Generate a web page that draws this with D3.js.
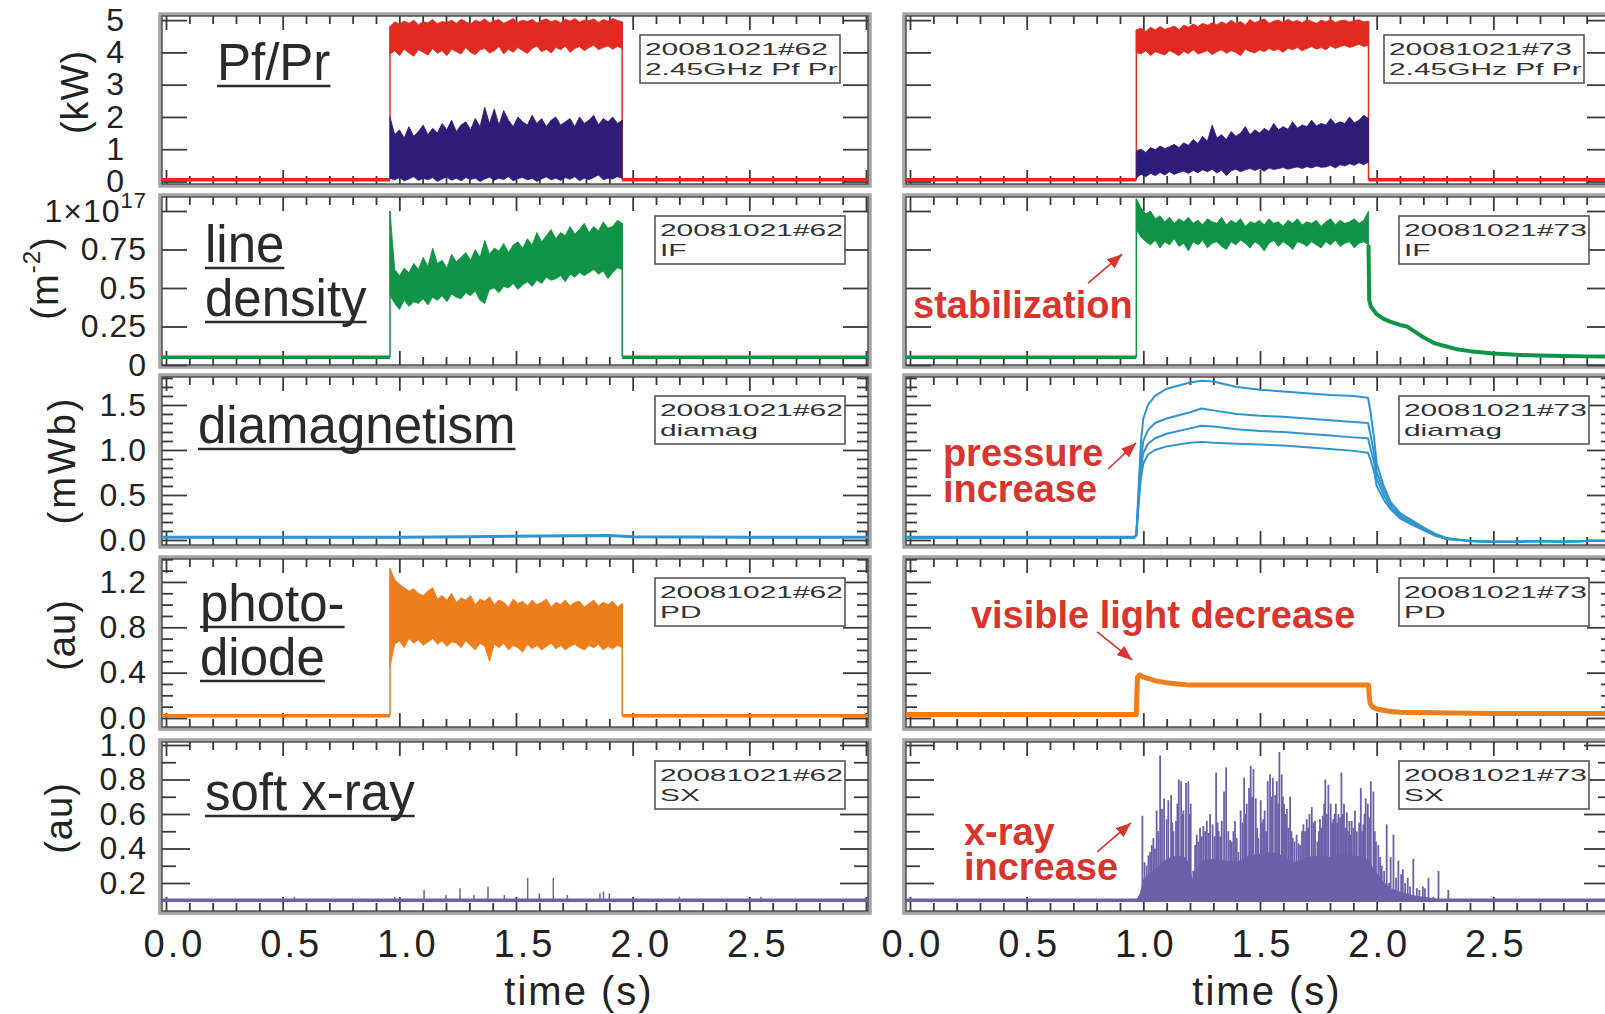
<!DOCTYPE html>
<meta charset="utf-8" />
<style>
  body {
    margin: 0px;
    padding: 0px;
    background: #fff;
  }
  svg {
    display: block;
  }
  text {
    font-family: "Liberation Sans", Arial, sans-serif;
  }
</style>

<svg width="1605" height="1014"></svg>

<script src="https://d3js.org/d3.v7.min.js"></script>
<script>
  // ---- data (left #62, right #73) ----
  const shotIds = ["62", "73"];
  const shotTags = ["2.45GHz Pf Pr", "IF", "diamag", "PD", "SX"];
  const rowTitles = [["Pf/Pr"], ["line", "density"], ["diamagnetism"], ["photo-", "diode"], ["soft x-ray"]];
  const rowUnits = ["(kW)", "(m", "(mWb)", "(au)", "(au)"];

  // plasma on / off times (s)
  const onOff = [
    [0.96, 1.955],
    [0.97, 1.965]
  ];

  // y ticks per row
  const yMajor = [[0, 1, 2, 3, 4, 5], [0, 0.25, 0.5, 0.75, 1], [0, 0.5, 1, 1.5], [0, 0.4, 0.8, 1.2], [0.2, 0.4, 0.6, 0.8, 1.0]];
  const yMinor = [
    [],
    [],
    [0.1, 0.2, 0.3, 0.4, 0.6, 0.7, 0.8, 0.9, 1.1, 1.2, 1.3, 1.4, 1.6, 1.7, 1.8],
    [0.1, 0.2, 0.3, 0.5, 0.6, 0.7, 0.9, 1.0, 1.1, 1.3, 1.4],
    [0.1, 0.3, 0.5, 0.7, 0.9]
  ];
  const yLabels = [["0", "1", "2", "3", "4", "5"], ["0", "0.25", "0.5", "0.75", "1×10"], ["0.0", "0.5", "1.0", "1.5"], ["0.0", "0.4", "0.8", "1.2"], ["0.2", "0.4", "0.6", "0.8", "1.0"]];
  const xMajor = [0, 0.5, 1, 1.5, 2, 2.5, 3];
  const xMinor = [0.1, 0.2, 0.3, 0.4, 0.6, 0.7, 0.8, 0.9, 1.1, 1.2, 1.3, 1.4, 1.6, 1.7, 1.8, 1.9, 2.1, 2.2, 2.3, 2.4, 2.6, 2.7, 2.8, 2.9];
  const xLabelVals = [0, 0.5, 1, 1.5, 2, 2.5];
  const xLabels = ["0.0", "0.5", "1.0", "1.5", "2.0", "2.5"];

  // baselines (plasma off)
  const pfBase = 0.05, neBase = 0.05, diaBase = 0.03, pdBase = 0.02, sxBase = 0.1;

  // shot #62: noisy bands during plasma, upper / lower envelopes (50 samples from on to off)
  const pfUpL = [4.8,4.95,4.88,4.97,4.9,5.0,4.86,4.95,4.92,5.02,4.89,4.96,4.93,5.0,4.9,5.03,4.95,4.88,5.0,4.94,5.04,4.92,4.98,5.02,4.9,4.97,5.05,4.93,5.0,4.96,5.03,4.91,4.99,5.04,4.95,5.0,4.92,5.03,4.97,5.05,4.94,5.0,4.98,5.04,4.93,5.02,4.97,5.05,4.99,4.95];
  const pfLoL = [3.95,4.05,3.9,4.1,3.98,3.88,4.08,4.0,3.92,4.12,3.97,4.05,3.9,4.1,4.02,3.95,4.15,4.0,3.93,4.08,4.12,3.98,4.05,4.18,3.95,4.1,4.0,4.15,4.05,3.97,4.12,4.2,4.02,4.1,3.98,4.15,4.08,4.2,4.0,4.12,4.18,4.05,4.15,4.22,4.08,4.15,4.2,4.1,4.18,4.12];
  const prUpL = [2.0,1.45,1.6,1.35,1.7,1.4,1.55,1.75,1.45,1.65,1.5,1.8,1.6,1.9,1.55,1.75,1.85,1.6,1.95,1.7,2.3,1.8,2.25,1.75,2.2,1.9,1.7,2.0,1.85,1.75,2.05,1.8,1.95,1.7,1.9,2.0,1.75,1.85,1.95,1.7,2.0,1.8,1.9,2.05,1.75,1.95,1.85,2.0,1.8,1.9];
  const prLoL = [0.1,0.05,0.12,0.02,0.08,0.15,0.03,0.1,0.05,0.12,0.0,0.08,0.14,0.04,0.1,0.02,0.12,0.06,0.1,0.0,0.08,0.13,0.04,0.1,0.06,0.15,0.02,0.09,0.12,0.05,0.1,0.0,0.08,0.14,0.05,0.1,0.03,0.12,0.07,0.15,0.02,0.1,0.06,0.12,0.2,0.05,0.1,0.08,0.15,0.1];
  const neUpL = [1.0,0.62,0.58,0.63,0.6,0.66,0.62,0.7,0.64,0.76,0.66,0.68,0.63,0.72,0.67,0.7,0.73,0.68,0.75,0.7,0.81,0.72,0.76,0.74,0.79,0.73,0.78,0.8,0.76,0.82,0.78,0.86,0.8,0.84,0.88,0.82,0.86,0.84,0.9,0.85,0.88,0.92,0.86,0.9,0.87,0.93,0.89,0.9,0.94,0.92];
  const neLoL = [0.45,0.4,0.36,0.42,0.38,0.41,0.4,0.43,0.39,0.44,0.42,0.45,0.41,0.46,0.44,0.43,0.47,0.45,0.48,0.42,0.4,0.49,0.5,0.47,0.51,0.5,0.53,0.49,0.52,0.54,0.51,0.55,0.53,0.57,0.55,0.56,0.58,0.54,0.59,0.57,0.6,0.58,0.6,0.62,0.59,0.61,0.56,0.6,0.63,0.62];
  const pdUpL = [1.32,1.22,1.18,1.15,1.12,1.14,1.1,1.08,1.12,1.15,1.05,1.08,1.04,1.1,1.02,1.06,1.04,1.08,1.0,1.05,1.03,1.07,1.0,1.04,1.02,0.98,1.05,1.01,1.03,0.99,1.04,1.0,1.02,1.05,0.98,1.02,1.0,1.04,0.99,1.02,1.03,0.98,1.01,1.04,0.99,1.02,1.0,1.03,0.98,1.01];
  const pdLoL = [0.45,0.65,0.68,0.62,0.7,0.66,0.69,0.64,0.67,0.7,0.65,0.68,0.63,0.67,0.66,0.62,0.68,0.64,0.6,0.66,0.63,0.5,0.65,0.62,0.66,0.6,0.64,0.62,0.58,0.65,0.61,0.64,0.6,0.63,0.66,0.61,0.64,0.6,0.63,0.65,0.62,0.6,0.64,0.62,0.65,0.6,0.63,0.61,0.64,0.62];
  const diaTL = [-0.03, 0.5, 1.0, 1.3, 1.6, 1.9, 2.0, 2.5, 3.02];
  const diaVL = [0.03, 0.03, 0.03, 0.035, 0.045, 0.05, 0.035, 0.03, 0.03];
  const sxSpikesL = [[0.55,0.12],[0.98,0.12],[1.106,0.16],[1.2,0.13],[1.26,0.17],[1.32,0.13],[1.38,0.18],[1.45,0.13],[1.55,0.23],[1.6,0.14],[1.66,0.23],[1.72,0.13],[1.86,0.14],[1.875,0.15],[1.9,0.14],[2.2,0.12],[2.55,0.12]];

  // shot #73
  const pfUpR = [4.7,4.75,4.65,4.78,4.7,4.8,4.72,4.76,4.82,4.7,4.85,4.78,4.88,4.8,4.9,4.84,4.92,4.86,4.95,4.88,5.0,4.9,4.96,4.85,5.02,4.92,4.98,5.04,4.9,4.97,5.0,4.93,5.03,4.95,4.99,4.92,5.02,4.96,4.9,5.0,4.95,5.02,4.93,4.98,5.0,4.94,4.99,5.01,4.95,4.97];
  const pfLoR = [4.0,3.95,4.05,3.9,4.02,3.97,3.92,4.05,3.98,3.9,4.03,3.96,4.08,3.95,4.0,4.06,3.93,4.02,4.08,3.97,4.05,4.0,3.9,4.1,4.03,3.98,4.08,4.02,4.12,4.05,4.1,4.0,4.13,4.08,4.15,4.05,4.12,4.18,4.1,4.15,4.08,4.2,4.12,4.18,4.22,4.15,4.2,4.25,4.18,4.22];
  const prUpR = [0.95,1.0,0.9,1.05,0.98,1.1,1.02,1.08,1.15,1.05,1.2,1.12,1.3,1.18,1.4,1.25,1.75,1.35,1.45,1.3,1.55,1.4,1.5,1.7,1.45,1.6,1.5,1.65,1.55,1.8,1.6,1.7,1.62,1.85,1.65,1.75,1.7,1.9,1.72,1.8,1.75,1.95,1.78,1.85,1.8,2.0,1.82,1.9,2.05,1.95];
  const prLoR = [0.1,0.22,0.15,0.25,0.18,0.28,0.2,0.3,0.22,0.28,0.32,0.25,0.34,0.27,0.36,0.3,0.38,0.26,0.35,0.18,0.33,0.38,0.3,0.36,0.4,0.34,0.4,0.32,0.42,0.37,0.4,0.43,0.38,0.42,0.45,0.4,0.46,0.42,0.48,0.44,0.45,0.5,0.42,0.52,0.48,0.55,0.5,0.58,0.52,0.6];
  const neUpR = [1.08,1.02,0.98,1.0,0.95,0.97,0.93,0.96,0.92,0.95,0.93,0.96,0.92,0.94,0.91,0.95,0.93,0.92,0.96,0.91,0.94,0.92,0.95,0.9,0.93,0.92,0.94,0.91,0.95,0.92,0.93,0.9,0.94,0.92,0.95,0.91,0.93,0.92,0.94,0.9,0.93,0.95,0.91,0.94,0.92,0.93,0.95,0.92,0.94,1.0];
  const neLoR = [0.88,0.83,0.8,0.78,0.81,0.76,0.8,0.78,0.82,0.77,0.79,0.74,0.8,0.78,0.81,0.76,0.79,0.8,0.77,0.75,0.8,0.78,0.81,0.79,0.76,0.8,0.78,0.74,0.79,0.81,0.77,0.8,0.78,0.75,0.8,0.79,0.77,0.8,0.78,0.76,0.8,0.78,0.81,0.77,0.79,0.8,0.76,0.79,0.8,0.78];
  const neDecayT = [1.965, 1.968, 1.975, 1.99, 2.0, 2.03, 2.06, 2.1, 2.13, 2.16, 2.2, 2.25, 2.3, 2.35, 2.4, 2.5, 2.6, 2.7, 2.8, 2.9, 3.02];
  const neDecayV = [0.78, 0.42, 0.38, 0.35, 0.33, 0.3, 0.28, 0.26, 0.25, 0.22, 0.18, 0.14, 0.12, 0.1, 0.09, 0.075, 0.066, 0.061, 0.058, 0.056, 0.055];
  const diaTR = [-0.03, 0.96, 0.97, 0.98, 0.99, 1.0, 1.02, 1.05, 1.1, 1.2, 1.25, 1.3, 1.4, 1.5, 1.6, 1.7, 1.8, 1.9, 1.963, 1.975, 1.99, 2.0, 2.03, 2.06, 2.1, 2.15, 2.2, 2.25, 2.3, 2.4, 2.5, 2.6, 2.7, 2.8, 2.9, 3.02];
  const dia1R = [0.03,0.03,0.05,0.6,1.1,1.35,1.5,1.6,1.68,1.75,1.77,1.76,1.7,1.67,1.65,1.63,1.61,1.6,1.58,1.4,1.1,0.85,0.6,0.42,0.3,0.22,0.14,0.07,0.02,-0.01,-0.02,-0.02,-0.01,-0.02,-0.01,-0.01];
  const dia2R = [0.03,0.03,0.05,0.5,0.9,1.1,1.22,1.3,1.35,1.42,1.46,1.44,1.4,1.38,1.37,1.35,1.33,1.31,1.3,1.15,0.95,0.75,0.55,0.4,0.28,0.2,0.13,0.06,0.02,-0.01,-0.02,-0.02,-0.01,-0.02,-0.01,-0.01];
  const dia3R = [0.03,0.03,0.05,0.45,0.8,0.97,1.07,1.13,1.18,1.24,1.27,1.26,1.23,1.21,1.2,1.18,1.16,1.14,1.13,1.0,0.85,0.68,0.5,0.37,0.26,0.19,0.12,0.05,0.01,-0.01,-0.02,-0.02,-0.01,-0.02,-0.01,-0.01];
  const dia4R = [0.03,0.03,0.05,0.4,0.7,0.85,0.95,1.0,1.04,1.08,1.09,1.08,1.07,1.06,1.05,1.03,1.01,0.99,0.97,0.88,0.75,0.6,0.45,0.34,0.24,0.17,0.11,0.05,0.01,-0.01,-0.02,-0.02,-0.01,-0.02,-0.01,-0.01];
  const pdTR = [-0.03, 0.97, 0.972, 0.975, 0.985, 1.0, 1.05, 1.1, 1.15, 1.2, 1.5, 1.8, 1.965, 1.968, 1.972, 1.98, 2.0, 2.05, 2.1, 2.5, 3.02];
  const pdVR = [0.03, 0.03, 0.2, 0.36, 0.38, 0.36, 0.33, 0.31, 0.3, 0.29, 0.29, 0.29, 0.29, 0.2, 0.13, 0.1, 0.08, 0.06, 0.05, 0.04, 0.04];
  const sxCoreT = [0.97,0.985,1.0,1.03,1.06,1.09,1.12,1.15,1.18,1.2,1.21,1.22,1.25,1.3,1.35,1.4,1.45,1.5,1.55,1.6,1.64,1.67,1.7,1.75,1.8,1.85,1.9,1.95,1.99,2.02,2.06,2.1,2.15,2.2,2.25,2.3];
  const sxCoreV = [0.1,0.14,0.22,0.26,0.29,0.33,0.35,0.36,0.35,0.3,0.22,0.28,0.33,0.34,0.33,0.32,0.36,0.37,0.38,0.36,0.32,0.33,0.35,0.36,0.35,0.37,0.36,0.35,0.28,0.22,0.17,0.15,0.13,0.12,0.11,0.1];
  const sxSpikesR = [
    [0.996,0.59],[1.005,0.32],[1.014,0.3],[1.022,0.36],[1.029,0.38],[1.036,0.42],[1.043,0.46],[1.05,0.4],[1.057,0.62],[1.064,0.5],[1.072,0.94],[1.08,0.63],[1.089,0.69],[1.1,0.57],[1.107,0.68],
    [1.119,0.71],[1.124,0.55],[1.129,0.5],[1.14,0.56],[1.146,0.66],[1.152,0.8],[1.162,0.79],[1.167,0.6],[1.172,0.62],[1.183,0.78],[1.193,0.79],[1.198,0.6],[1.203,0.66],[1.214,0.27],
    [1.222,0.42],[1.229,0.48],[1.236,0.44],[1.243,0.52],[1.25,0.47],[1.257,0.53],[1.265,0.5],[1.272,0.56],[1.279,0.49],[1.286,0.6],[1.297,0.54],[1.305,0.47],[1.312,0.84],[1.318,0.55],[1.323,0.5],[1.33,0.47],[1.336,0.56],[1.346,0.73],
    [1.355,0.87],[1.364,0.5],[1.372,0.45],[1.379,0.44],[1.386,0.5],[1.393,0.56],[1.4,0.46],[1.407,0.38],[1.417,0.62],[1.425,0.55],[1.432,0.81],[1.438,0.6],[1.443,0.66],[1.453,0.75],[1.46,0.88],
    [1.466,0.7],[1.472,0.86],[1.482,0.69],[1.488,0.52],[1.493,0.46],[1.503,0.68],[1.508,0.55],[1.514,0.57],[1.52,0.62],[1.526,0.5],[1.533,0.79],[1.543,0.83],[1.55,0.7],[1.555,0.81],[1.565,0.71],
    [1.572,0.79],[1.578,0.66],[1.583,0.96],[1.593,0.83],[1.598,0.7],[1.603,0.66],[1.609,0.6],[1.615,0.63],[1.622,0.52],[1.629,0.7],[1.635,0.5],[1.64,0.46],[1.648,0.44],[1.657,0.48],[1.665,0.43],[1.672,0.42],[1.68,0.5],[1.686,0.54],
    [1.693,0.5],[1.7,0.57],[1.706,0.52],[1.712,0.6],[1.722,0.64],[1.729,0.55],[1.736,0.56],[1.746,0.44],[1.752,0.5],[1.757,0.57],[1.763,0.52],[1.769,0.59],[1.775,0.66],[1.78,0.8],[1.787,0.6],[1.793,0.77],[1.803,0.66],
    [1.809,0.55],[1.814,0.57],[1.82,0.6],[1.825,0.66],[1.831,0.55],[1.836,0.6],[1.843,0.58],[1.849,0.84],[1.855,0.6],[1.86,0.66],[1.866,0.52],[1.872,0.61],[1.878,0.5],[1.883,0.56],[1.888,0.48],[1.893,0.56],[1.9,0.52],[1.907,0.62],[1.915,0.5],
    [1.925,0.55],[1.932,0.75],[1.938,0.5],[1.943,0.54],[1.948,0.6],[1.953,0.69],[1.962,0.66],[1.968,0.58],[1.975,0.79],[1.986,0.73],[1.992,0.5],[1.997,0.44],[2.007,0.42],[2.015,0.35],[2.022,0.3],[2.032,0.27],
    [2.043,0.54],[2.053,0.2],[2.06,0.35],[2.072,0.48],[2.083,0.23],[2.093,0.33],[2.105,0.25],[2.112,0.28],[2.122,0.2],[2.133,0.23],
    [2.143,0.18],[2.157,0.34],[2.172,0.17],[2.183,0.16],[2.198,0.18],[2.207,0.17],[2.222,0.23],[2.243,0.12],[2.265,0.27],[2.307,0.16]
  ];

  // annotations on shot #73 (row, time, value)
  const notes = [
    { row: 1, t: 0.013, v: [0.305], lines: ["stabilization"], arrow: [0.763, 0.532, 0.909, 0.72] },
    { row: 2, t: 0.141, v: [0.822, 0.422], lines: ["pressure", "increase"], arrow: [0.849, 0.789, 0.969, 1.078] },
    { row: 3, t: 0.261, v: [0.794], lines: ["visible light decrease"], arrow: [0.802, 0.759, 0.952, 0.512] },
    { row: 4, t: 0.231, v: [0.42, 0.217], lines: ["x-ray", "increase"], arrow: [0.802, 0.38, 0.947, 0.548] }
  ];

  // ---- layout ----
  const red = "#e22a21", navy = "#2d1c78", green = "#0e9444", cyan = "#2f94cf", orange = "#ee7e1c", violet = "#6b60a9";
  const noteRed = "#d8352e";
  const ink = "#222";

  const cols = [
    { fl: 160, fr: 870, x0: 166, x1: 866, timeX: 579, labelShift: 8 },
    { fl: 904, fr: 1614, x0: 910, x1: 1610, timeX: 1267, labelShift: 2 }
  ];
  const rows = [
    { top: 14, bot: 186, dom: [-0.14, 5.19], labelX: 125, majLen: 25, minLen: 12 },
    { top: 195, bot: 367, dom: [-0.013, 1.104], labelX: 147, majLen: 25, minLen: 12 },
    { top: 375, bot: 547, dom: [-0.078, 1.833], labelX: 147, majLen: 25, minLen: 11 },
    { top: 557, bot: 729, dom: [-0.097, 1.42], labelX: 147, majLen: 25, minLen: 11 },
    { top: 740, bot: 913, dom: [0.026, 1.029], labelX: 147, majLen: 28, minLen: 14 }
  ];
  const titlePos = [[[217, 80]], [[205, 262], [205, 316]], [[198, 443]], [[200, 621], [200, 675]], [[205, 810]]];
  const unitPos = [[75, 92], [45, 278], [62, 460], [62, 635], [59, 818]];

  const svg = d3.select("svg");
  const defs = svg.append("defs");
  defs
    .append("marker")
    .attr("id", "head")
    .attr("viewBox", "0 0 10 10")
    .attr("refX", 10)
    .attr("refY", 5)
    .attr("markerWidth", 15)
    .attr("markerHeight", 12)
    .attr("markerUnits", "userSpaceOnUse")
    .attr("preserveAspectRatio", "none")
    .attr("orient", "auto")
    .append("path")
    .attr("d", "M0,0L10,5L0,10Z")
    .attr("fill", noteRed);

  function tickAxis(g, axis, tf, vals, size) {
    g.append("g")
      .attr("transform", tf)
      .call(axis.tickValues(vals).tickSize(size).tickFormat(""))
      .call((a) => a.select(".domain").remove())
      .call((a) => a.selectAll("line").attr("stroke", "#3a3a3a").attr("stroke-width", 1.8));
  }

  function panel(ci, ri) {
    const c = cols[ci],
      r = rows[ri];
    const x = d3.scaleLinear().domain([0, 3]).range([c.x0, c.x1]);
    const y = d3.scaleLinear().domain(r.dom).range([r.bot, r.top]);
    const g = svg.append("g");
    g.append("rect").attr("x", c.fl).attr("y", r.top).attr("width", c.fr - c.fl).attr("height", r.bot - r.top).attr("fill", "none").attr("stroke", "#a4a4a4").attr("stroke-width", 3.5);
    g.append("rect").attr("x", c.fl + 2).attr("y", r.top + 2).attr("width", c.fr - c.fl - 4).attr("height", r.bot - r.top - 4).attr("fill", "none").attr("stroke", "#3a3a3a").attr("stroke-width", 1.3);

    tickAxis(g, d3.axisBottom(x), `translate(0,${r.bot - 2})`, xMinor, -8);
    tickAxis(g, d3.axisBottom(x), `translate(0,${r.bot - 2})`, xMajor, -14);
    tickAxis(g, d3.axisTop(x), `translate(0,${r.top + 2})`, xMinor, -8);
    tickAxis(g, d3.axisTop(x), `translate(0,${r.top + 2})`, xMajor, -14);
    tickAxis(g, d3.axisLeft(y), `translate(${c.fl + 2},0)`, yMinor[ri], -r.minLen);
    tickAxis(g, d3.axisLeft(y), `translate(${c.fl + 2},0)`, yMajor[ri], -r.majLen);
    tickAxis(g, d3.axisRight(y), `translate(${c.fr - 2},0)`, yMinor[ri], -r.minLen);
    tickAxis(g, d3.axisRight(y), `translate(${c.fr - 2},0)`, yMajor[ri], -r.majLen);

    const id = `clip${ci}${ri}`;
    defs.append("clipPath").attr("id", id).append("rect").attr("x", c.fl + 2).attr("y", r.top + 2).attr("width", c.fr - c.fl - 4).attr("height", r.bot - r.top - 4);
    const data = g.append("g").attr("clip-path", `url(#${id})`);
    return { c, r, x, y, g, data };
  }

  function band(p, t0, t1, up, lo, color) {
    const n = up.length;
    const tt = (i) => t0 + (i * (t1 - t0)) / (n - 1);
    const area = d3
      .area()
      .x((d, i) => p.x(tt(i)))
      .y0((d, i) => p.y(lo[i]))
      .y1((d) => p.y(d));
    p.data.append("path").datum(up).attr("d", area).attr("fill", color).attr("stroke", color).attr("stroke-width", 0.8);
  }

  function trace(p, pts, color, w) {
    p.data
      .append("path")
      .datum(pts)
      .attr(
        "d",
        d3
          .line()
          .x((d) => p.x(d[0]))
          .y((d) => p.y(d[1]))
      )
      .attr("fill", "none")
      .attr("stroke", color)
      .attr("stroke-width", w)
      .attr("stroke-linejoin", "round");
  }

  function pulse(p, on, off, up, lo, base, color, withFall) {
    band(p, on, off, up, lo, color);
    trace(p, [[-0.03, base], [on, base]], color, 3.5);
    trace(p, [[on, base], [on, up[0]]], color, 1.5);
    if (withFall !== false) {
      trace(p, [[off, up[up.length - 1]], [off, base]], color, 1.5);
      trace(p, [[off, base], [3.02, base]], color, 3.5);
    }
  }

  function spikes(p, list, base, color, w) {
    p.data
      .append("g")
      .selectAll("line")
      .data(list)
      .join("line")
      .attr("x1", (d) => p.x(d[0]))
      .attr("x2", (d) => p.x(d[0]))
      .attr("y1", p.y(base))
      .attr("y2", (d) => p.y(d[1]))
      .attr("stroke", color)
      .attr("stroke-width", w);
  }

  function shotBox(p, ri, shot) {
    const bx = p.c.x0 + (ri === 0 ? 474 : 489);
    const bw = ri === 0 ? 200 : 190;
    const by = p.r.top + 21;
    p.g.append("rect").attr("x", bx).attr("y", by).attr("width", bw).attr("height", 48).attr("fill", "#fff").attr("stroke", "#555").attr("stroke-width", 1.6);
    const t = p.g.append("g");
    const l1 = t.append("text").attr("y", 20).attr("font-size", 17).attr("fill", "#333").text("20081021#" + shot);
    t.append("text").attr("y", 40).attr("font-size", 17).attr("fill", "#333").text(shotTags[ri]);
    const s = 183 / l1.node().getComputedTextLength();
    t.attr("transform", `translate(${bx + 5},${by}) scale(${s},1)`);
  }

  // ---- draw both shots ----
  for (let ci = 0; ci < 2; ci++) {
    const [on, off] = onOff[ci];
    const P = rows.map((r, ri) => panel(ci, ri));

    if (ci === 0) {
      pulse(P[0], on, off, pfUpL, pfLoL, pfBase, red);
      band(P[0], on, off, prUpL, prLoL, navy);
      pulse(P[1], on, off, neUpL, neLoL, neBase, green);
      trace(P[2], diaTL.map((t, i) => [t, diaVL[i]]), cyan, 3);
      pulse(P[3], on, off, pdUpL, pdLoL, pdBase, orange);
      trace(P[4], [[-0.03, sxBase], [3.02, sxBase]], violet, 3.5);
      spikes(P[4], sxSpikesL, sxBase, violet, 1.5);
    } else {
      pulse(P[0], on, off, pfUpR, pfLoR, pfBase, red);
      band(P[0], on, off, prUpR, prLoR, navy);
      pulse(P[1], on, off, neUpR, neLoR, neBase, green, false);
      trace(P[1], neDecayT.map((t, i) => [t, neDecayV[i]]), green, 4);
      [dia1R, dia2R, dia3R, dia4R].forEach((s) => trace(P[2], diaTR.map((t, i) => [t, s[i]]), cyan, 2));
      trace(P[2], [[-0.03, diaBase], [0.965, diaBase]], cyan, 3);
      trace(P[3], pdTR.map((t, i) => [t, pdVR[i]]), orange, 5);
      trace(P[4], [[-0.03, sxBase], [3.02, sxBase]], violet, 3.5);
      P[4].data
        .append("path")
        .datum(sxCoreT.map((t, i) => [t, sxCoreV[i]]))
        .attr(
          "d",
          d3
            .area()
            .x((d) => P[4].x(d[0]))
            .y0(P[4].y(sxBase))
            .y1((d) => P[4].y(d[1]))
        )
        .attr("fill", violet);
      spikes(P[4], sxSpikesR, sxBase, violet, 1.8);
    }

    P.forEach((p, ri) => shotBox(p, ri, shotIds[ci]));

    // time axis labels under the bottom row
    const pb = P[4];
    const ax = pb.g
      .append("g")
      .attr("transform", `translate(${pb.c.labelShift},${pb.r.bot})`)
      .call(
        d3
          .axisBottom(pb.x)
          .tickValues(xLabelVals)
          .tickSize(0)
          .tickPadding(17)
          .tickFormat((d, i) => xLabels[i])
      );
    ax.select(".domain").remove();
    ax.attr("font-family", null).attr("font-size", null);
    ax.selectAll("text").attr("font-size", 38).attr("letter-spacing", 3).attr("fill", ink);
    pb.g.append("text").attr("x", pb.c.timeX).attr("y", 1005).attr("text-anchor", "middle").attr("font-size", 40).attr("letter-spacing", 2).attr("fill", ink).text("time (s)");

    if (ci === 0) {
      // y tick labels, titles and units on the left column
      P.forEach((p, ri) => {
        const a = p.g
          .append("g")
          .attr("transform", `translate(${p.c.fl},0)`)
          .call(
            d3
              .axisLeft(p.y)
              .tickValues(yMajor[ri])
              .tickSize(0)
              .tickPadding(p.c.fl - p.r.labelX)
              .tickFormat((d, i) => yLabels[ri][i])
          );
        a.select(".domain").remove();
        a.attr("font-family", null).attr("font-size", null);
        a.selectAll("text").attr("font-size", 32).attr("letter-spacing", 1).attr("fill", ink);
        if (ri === 1) {
          a.selectAll("text")
            .filter((d) => d === 1)
            .append("tspan")
            .attr("dy", "-0.62em")
            .attr("font-size", 22)
            .text("17");
        }

        rowTitles[ri].forEach((s, k) => {
          const [tx, ty] = titlePos[ri][k];
          const t = p.g.append("text").attr("x", tx).attr("y", ty).attr("font-size", 51).attr("fill", "#2a2a2a").text(s);
          const w = t.node().getComputedTextLength();
          p.g.append("line").attr("x1", tx).attr("x2", tx + w).attr("y1", ty + 6).attr("y2", ty + 6).attr("stroke", "#2a2a2a").attr("stroke-width", 2.5);
        });

        const [ux, uy] = unitPos[ri];
        const u = p.g
          .append("text")
          .attr("transform", `translate(${ux},${uy}) rotate(-90)`)
          .attr("text-anchor", "middle")
          .attr("dominant-baseline", "central")
          .attr("font-size", 38)
          .attr("fill", ink)
          .attr("letter-spacing", ri === 2 ? 3 : 1);
        if (ri === 1) {
          u.append("tspan").text("(m");
          u.append("tspan").attr("dy", -14).attr("font-size", 24).text("-2");
          u.append("tspan").attr("dy", 14).text(")");
        } else {
          u.text(rowUnits[ri]);
        }
      });
    } else {
      // annotations on shot #73
      notes.forEach((n) => {
        const p = P[n.row];
        n.lines.forEach((s, k) => {
          p.g.append("text").attr("x", p.x(n.t)).attr("y", p.y(n.v[k])).attr("font-size", 38).attr("font-weight", "bold").attr("fill", noteRed).text(s);
        });
        const [t1, v1, t2, v2] = n.arrow;
        p.g.append("line").attr("x1", p.x(t1)).attr("y1", p.y(v1)).attr("x2", p.x(t2)).attr("y2", p.y(v2)).attr("stroke", noteRed).attr("stroke-width", 1.6).attr("marker-end", "url(#head)");
      });
    }
  }
</script>
